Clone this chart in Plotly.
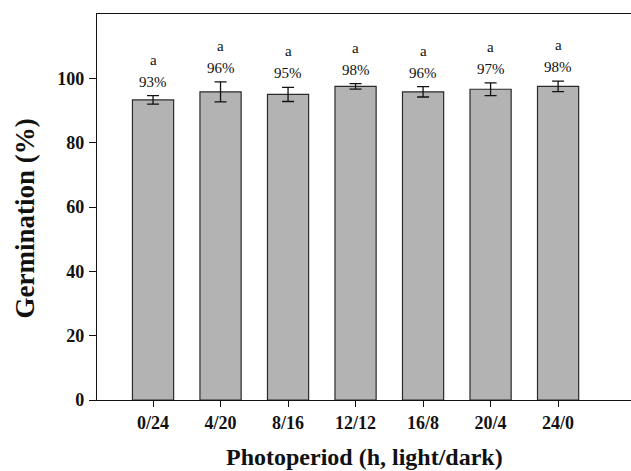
import plotly.graph_objects as go

# Photoperiod treatments and germination results
photoperiods = ["0/24", "4/20", "8/16", "12/12", "16/8", "20/4", "24/0"]
germination = [93.3, 95.8, 95.0, 97.5, 95.8, 96.6, 97.5]
std_err = [1.3, 3.1, 2.2, 0.85, 1.6, 2.0, 1.65]
pct_labels = ["93%", "96%", "95%", "98%", "96%", "97%", "98%"]
letters = ["a", "a", "a", "a", "a", "a", "a"]
y_ticks = [0, 20, 40, 60, 80, 100]

serif = "Liberation Serif, Times New Roman, serif"
x_pos = list(range(len(photoperiods)))

fig = go.Figure()
fig.add_trace(go.Bar(
    x=x_pos,
    y=germination,
    width=0.61,
    marker=dict(color="#b3b3b3", line=dict(color="#2b2b2b", width=1.2)),
    error_y=dict(type="data", array=std_err, visible=True,
                 color="#111111", thickness=1.3, width=6),
    showlegend=False,
))

annotations = []
for xi, m, e, p, l in zip(x_pos, germination, std_err, pct_labels, letters):
    top = m + e
    annotations.append(dict(x=xi, y=top, xref="x", yref="y", text=p,
                            showarrow=False, yshift=14, yanchor="middle",
                            font=dict(family=serif, size=15, color="#111")))
    annotations.append(dict(x=xi, y=top, xref="x", yref="y", text=l,
                            showarrow=False, yshift=36, yanchor="middle",
                            font=dict(family=serif, size=15, color="#111")))

# Axis titles
annotations.append(dict(text="Photoperiod (h, light/dark)", xref="paper", yref="paper",
                        x=0.5, y=-0.148, xanchor="center", yanchor="middle",
                        showarrow=False,
                        font=dict(family=serif, size=24, color="#111", weight="bold")))
annotations.append(dict(text="Germination (%)", xref="paper", yref="paper",
                        x=-0.135, y=0.47, xanchor="center", yanchor="middle",
                        textangle=-90, showarrow=False,
                        font=dict(family=serif, size=27, color="#111", weight="bold")))

fig.update_layout(
    width=631, height=471,
    margin=dict(l=97, r=0, t=14, b=71),
    paper_bgcolor="white", plot_bgcolor="white",
    annotations=annotations,
    xaxis=dict(
        tickmode="array", tickvals=x_pos, ticktext=photoperiods,
        range=[-0.83, 7.08],
        showline=True, linecolor="#111", linewidth=1.3, mirror=True,
        ticks="outside", ticklen=6, tickcolor="#111", tickwidth=1,
        showgrid=False, zeroline=False,
        tickfont=dict(family=serif, size=18, color="#111", weight="bold"),
    ),
    yaxis=dict(
        range=[0, 120], tickvals=y_ticks,
        showline=True, linecolor="#111", linewidth=1.3,
        ticks="outside", ticklen=7, tickcolor="#111", tickwidth=1,
        showgrid=False, zeroline=False,
        tickfont=dict(family=serif, size=18, color="#111", weight="bold"),
        ticklabelstandoff=1,
    ),
)

fig.write_html("out.html")
